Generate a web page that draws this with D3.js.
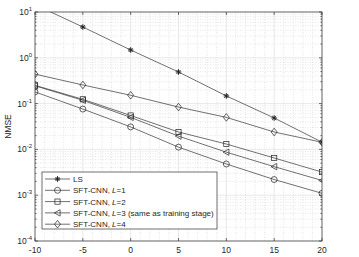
<!DOCTYPE html>
<html>
<head>
<meta charset="utf-8">
<script src="https://cdn.jsdelivr.net/npm/d3@7"></script>
<style>
  body { margin: 0; background: white; }
  text { font-family: "Liberation Sans", Arial, sans-serif; }
</style>
</head>
<body>
<div id="chart"></div>
<script>
// SNR points (dB)
const snr = [-10, -5, 0, 5, 10, 15, 20];

// NMSE per method
const lsVals = [14.5, 4.7, 1.48, 0.49, 0.147, 0.0485, 0.0144];
const l1Vals = [0.18, 0.076, 0.031, 0.0112, 0.0048, 0.0022, 0.0011];
const l2Vals = [0.25, 0.124, 0.055, 0.024, 0.0131, 0.0065, 0.0032];
const l3Vals = [0.245, 0.118, 0.05, 0.0195, 0.0087, 0.0042, 0.0021];
const l4Vals = [0.44, 0.255, 0.152, 0.084, 0.05, 0.024, 0.0143];

const xTicks = [-10, -5, 0, 5, 10, 15, 20];
const yTicks = [1e-4, 1e-3, 1e-2, 1e-1, 1, 10];
const yExp = [-4, -3, -2, -1, 0, 1];

const series = [
  { name: "LS", vals: lsVals, marker: "star" },
  { name: "L=1", vals: l1Vals, marker: "circle" },
  { name: "L=2", vals: l2Vals, marker: "square" },
  { name: "L=3", vals: l3Vals, marker: "triangle", note: " (same as training stage)" },
  { name: "L=4", vals: l4Vals, marker: "diamond" }
];

let width = 359, height = 257;
let margin = { top: 12, bottom: 16, left: 35, right: 37 };

let svg = d3.select('#chart')
  .append('svg')
  .attr('width', width)
  .attr('height', height)
  .style('background', 'white');

let xScale = d3.scaleLinear()
  .domain([-10, 20])
  .range([margin.left, width - margin.right]);

let yScale = d3.scaleLog()
  .domain([1e-4, 10])
  .range([height - margin.bottom, margin.top]);

const x0 = xScale.range()[0], x1 = xScale.range()[1];
const y0 = yScale.range()[0], y1 = yScale.range()[1];

// minor grid
const grid = svg.append('g');
for (let v = -10; v <= 20; v++) {
  if (v % 5 === 0) continue;
  grid.append('line')
    .attr('x1', xScale(v)).attr('x2', xScale(v))
    .attr('y1', y1).attr('y2', y0)
    .attr('stroke', '#ccc').attr('stroke-width', 0.5)
    .attr('stroke-dasharray', '1,1.5');
}
const minorY = [];
for (let e = -4; e < 1; e++) {
  for (let k = 2; k <= 9; k++) minorY.push(k * Math.pow(10, e));
}
minorY.forEach(v => {
  grid.append('line')
    .attr('x1', x0).attr('x2', x1)
    .attr('y1', yScale(v)).attr('y2', yScale(v))
    .attr('stroke', '#ccc').attr('stroke-width', 0.5)
    .attr('stroke-dasharray', '1,1.5');
});
// major grid
xTicks.forEach(v => {
  grid.append('line')
    .attr('x1', xScale(v)).attr('x2', xScale(v))
    .attr('y1', y1).attr('y2', y0)
    .attr('stroke', '#e0e0e0').attr('stroke-width', 0.7);
});
yTicks.forEach(v => {
  grid.append('line')
    .attr('x1', x0).attr('x2', x1)
    .attr('y1', yScale(v)).attr('y2', yScale(v))
    .attr('stroke', '#e0e0e0').attr('stroke-width', 0.7);
});

// axes box
svg.append('rect')
  .attr('x', x0).attr('y', y1)
  .attr('width', x1 - x0).attr('height', y0 - y1)
  .attr('fill', 'none').attr('stroke', '#333').attr('stroke-width', 0.7);

// ticks inside
const tk = svg.append('g').attr('stroke', '#333').attr('stroke-width', 0.7);
xTicks.forEach(v => {
  tk.append('line').attr('x1', xScale(v)).attr('x2', xScale(v)).attr('y1', y0).attr('y2', y0 - 3);
  tk.append('line').attr('x1', xScale(v)).attr('x2', xScale(v)).attr('y1', y1).attr('y2', y1 + 3);
});
yTicks.forEach(v => {
  tk.append('line').attr('x1', x0).attr('x2', x0 + 3).attr('y1', yScale(v)).attr('y2', yScale(v));
  tk.append('line').attr('x1', x1).attr('x2', x1 - 3).attr('y1', yScale(v)).attr('y2', yScale(v));
});
minorY.forEach(v => {
  tk.append('line').attr('x1', x0).attr('x2', x0 + 1.5).attr('y1', yScale(v)).attr('y2', yScale(v));
  tk.append('line').attr('x1', x1).attr('x2', x1 - 1.5).attr('y1', yScale(v)).attr('y2', yScale(v));
});

// tick labels
xTicks.forEach(v => {
  svg.append('text')
    .attr('x', xScale(v)).attr('y', y0 + 12)
    .attr('text-anchor', 'middle')
    .attr('font-size', 8.5).attr('fill', '#262626')
    .text(v);
});
yTicks.forEach((v, i) => {
  const t = svg.append('text')
    .attr('x', x0 - 3).attr('y', yScale(v) + 3)
    .attr('text-anchor', 'end')
    .attr('fill', '#262626');
  t.append('tspan').attr('font-size', 8.5).text('10');
  t.append('tspan').attr('font-size', 6).attr('dy', -4).text(yExp[i]);
});

svg.append('text')
  .attr('transform', `translate(11,${(y0 + y1) / 2}) rotate(-90)`)
  .attr('text-anchor', 'middle')
  .attr('font-size', 8.5).attr('fill', '#262626')
  .text('NMSE');

// marker drawing
function drawMarker(g, type, x, y) {
  const s = '#222';
  if (type === 'circle') {
    g.append('circle').attr('cx', x).attr('cy', y).attr('r', 3)
      .attr('fill', 'none').attr('stroke', s).attr('stroke-width', 0.7);
  } else if (type === 'square') {
    g.append('rect').attr('x', x - 2.6).attr('y', y - 2.6).attr('width', 5.2).attr('height', 5.2)
      .attr('fill', 'none').attr('stroke', s).attr('stroke-width', 0.7);
  } else if (type === 'triangle') {
    g.append('path').attr('d', `M${x - 3.2},${y} L${x + 2.6},${y - 3.2} L${x + 2.6},${y + 3.2} Z`)
      .attr('fill', 'none').attr('stroke', s).attr('stroke-width', 0.7);
  } else if (type === 'diamond') {
    g.append('path').attr('d', `M${x},${y - 3.8} L${x + 3},${y} L${x},${y + 3.8} L${x - 3},${y} Z`)
      .attr('fill', 'none').attr('stroke', s).attr('stroke-width', 0.7);
  } else if (type === 'star') {
    const r = 2.8;
    [[r, 0], [0, r], [r * 0.7, r * 0.7], [r * 0.7, -r * 0.7]].forEach(d => {
      g.append('line').attr('x1', x - d[0]).attr('y1', y - d[1]).attr('x2', x + d[0]).attr('y2', y + d[1])
        .attr('stroke', s).attr('stroke-width', 1);
    });
  }
}

svg.append('clipPath').attr('id', 'clip')
  .append('rect').attr('x', x0).attr('y', y1).attr('width', x1 - x0).attr('height', y0 - y1);

const plot = svg.append('g').attr('clip-path', 'url(#clip)');

let line = d3.line()
  .x((d, i) => xScale(snr[i]))
  .y(d => yScale(d));

series.forEach(s => {
  plot.append('path')
    .datum(s.vals)
    .attr('d', line)
    .attr('fill', 'none')
    .attr('stroke', '#333')
    .attr('stroke-width', 0.7);
  s.vals.forEach((v, i) => drawMarker(plot, s.marker, xScale(snr[i]), yScale(v)));
});

// legend
const legend = svg.append('g');
legend.append('rect')
  .attr('x', 42).attr('y', 172).attr('width', 175).attr('height', 57)
  .attr('fill', 'white').attr('stroke', '#333').attr('stroke-width', 0.7);

series.forEach((s, i) => {
  const ly = 179 + i * 11.3;
  legend.append('line').attr('x1', 45).attr('x2', 70).attr('y1', ly).attr('y2', ly)
    .attr('stroke', '#333').attr('stroke-width', 0.7);
  drawMarker(legend, s.marker, 57.5, ly);
  const t = legend.append('text')
    .attr('x', 73).attr('y', ly + 3)
    .attr('font-size', 8).attr('fill', '#262626');
  if (s.name === 'LS') {
    t.text('LS');
  } else {
    t.append('tspan').text('SFT-CNN, ');
    t.append('tspan').attr('font-style', 'italic').text('L');
    t.append('tspan').text(s.name.slice(1) + (s.note || ''));
  }
});
</script>
</body>
</html>
